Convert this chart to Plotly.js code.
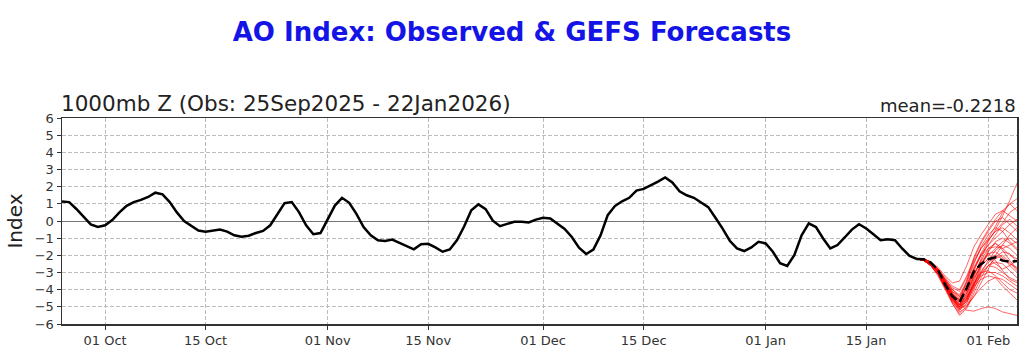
<!DOCTYPE html>
<html>
<head>
<meta charset="utf-8">
<script src="https://cdn.plot.ly/plotly-3.0.1.min.js"></script>
<style>html,body{margin:0;padding:0;background:#fff;}#chart{width:1024px;height:356px;}</style>
</head>
<body>
<div id="chart"></div>
<script>
// ---- Data ----
const obsStart = "2025-09-25";
const obsValues = [
  1.13, 1.10, 0.70, 0.23, -0.20, -0.35, -0.25, 0.05, 0.50, 0.88,
  1.10, 1.23, 1.40, 1.65, 1.55, 1.10, 0.50, 0.00, -0.30, -0.55,
  -0.62, -0.56, -0.50, -0.62, -0.83, -0.92, -0.86, -0.70, -0.58, -0.25,
  0.42, 1.04, 1.10, 0.52, -0.25, -0.77, -0.70, 0.08, 0.90, 1.35,
  1.06, 0.42, -0.35, -0.83, -1.12, -1.17, -1.08, -1.27, -1.46, -1.65,
  -1.35, -1.33, -1.54, -1.79, -1.66, -1.12, -0.32, 0.63, 0.97, 0.69,
  0.02, -0.30, -0.17, -0.04, -0.04, -0.08, 0.08, 0.19, 0.15, -0.13,
  -0.46, -0.93, -1.56, -1.92, -1.66, -0.84, 0.34, 0.87, 1.15, 1.35,
  1.77, 1.87, 2.06, 2.29, 2.54, 2.25, 1.73, 1.50, 1.35, 1.10,
  0.81, 0.19, -0.44, -1.15, -1.60, -1.75, -1.54, -1.21, -1.31, -1.79,
  -2.46, -2.62, -1.98, -0.83, -0.14, -0.35, -1.02, -1.60, -1.40, -0.96,
  -0.50, -0.19, -0.44, -0.77, -1.12, -1.06, -1.12, -1.60, -2.02, -2.21
];
const fcstStart = "2026-01-22";
const ensMean = [-2.21, -2.23, -2.42, -2.85, -3.71, -4.38, -4.73, -3.90, -2.94, -2.50, -2.23, -2.12, -2.31, -2.37, -2.33];
const members = [
  [-2.2,-2.3,-2.5,-3.0,-3.8,-4.5,-5.0,-4.3,-3.2,-2.2,-1.2,-0.5,0.3,1.2,2.2],
  [-2.2,-2.2,-2.4,-2.8,-3.5,-4.2,-4.6,-3.5,-2.1,-1.2,-0.5,0.1,0.6,1.0,1.3],
  [-2.2,-2.3,-2.6,-3.1,-3.9,-4.7,-5.3,-5.0,-4.4,-3.6,-2.8,-2.0,-1.4,-0.8,-0.4],
  [-2.2,-2.3,-2.5,-2.9,-3.6,-4.3,-4.8,-5.2,-5.25,-5.1,-5.0,-5.1,-5.3,-5.4,-5.5],
  [-2.2,-2.2,-2.4,-2.7,-3.2,-3.6,-3.5,-2.6,-1.5,-0.8,-0.2,0.4,0.6,0.3,0.0],
  [-2.2,-2.3,-2.5,-3.0,-3.7,-4.4,-4.9,-4.2,-3.3,-2.6,-2.2,-2.0,-2.2,-2.5,-2.7],
  [-2.2,-2.3,-2.6,-3.2,-4.0,-4.8,-5.5,-5.1,-4.2,-3.3,-2.6,-2.2,-2.0,-2.4,-2.9],
  [-2.2,-2.2,-2.4,-2.8,-3.4,-4.0,-4.4,-3.7,-2.8,-2.0,-1.4,-0.8,-0.2,0.1,-0.3],
  [-2.2,-2.3,-2.5,-2.9,-3.6,-4.4,-5.0,-4.7,-3.9,-3.1,-2.6,-2.7,-3.0,-3.3,-3.5],
  [-2.2,-2.3,-2.4,-2.8,-3.5,-4.1,-4.5,-3.9,-3.0,-2.4,-2.0,-1.6,-1.2,-1.0,-1.3],
  [-2.2,-2.2,-2.5,-3.0,-3.9,-4.6,-5.1,-4.5,-3.6,-3.0,-2.9,-3.2,-3.6,-4.0,-4.2],
  [-2.2,-2.3,-2.5,-2.9,-3.5,-4.2,-4.7,-4.0,-2.9,-1.9,-1.1,-0.6,-0.4,-0.7,-1.1],
  [-2.2,-2.3,-2.6,-3.1,-3.8,-4.6,-5.2,-4.8,-3.8,-2.7,-1.8,-1.2,-1.0,-1.3,-1.7],
  [-2.2,-2.2,-2.4,-2.8,-3.4,-3.9,-4.1,-3.3,-2.3,-1.6,-1.1,-0.6,-0.1,0.5,0.8],
  [-2.2,-2.3,-2.5,-2.9,-3.7,-4.5,-5.0,-4.6,-3.7,-3.0,-2.6,-2.4,-2.5,-2.9,-3.3],
  [-2.2,-2.3,-2.5,-3.0,-3.8,-4.5,-4.9,-4.2,-3.2,-2.3,-1.6,-1.3,-1.6,-2.0,-2.2],
  [-2.2,-2.2,-2.4,-2.8,-3.5,-4.3,-4.8,-4.4,-3.8,-3.4,-3.2,-3.3,-3.8,-4.2,-4.6],
  [-2.2,-2.3,-2.6,-3.1,-3.9,-4.7,-5.2,-4.6,-3.5,-2.5,-1.9,-1.8,-2.1,-2.6,-3.0],
  [-2.2,-2.3,-2.5,-2.9,-3.6,-4.3,-4.6,-3.8,-2.7,-1.9,-1.4,-1.0,-0.6,-0.2,0.1],
  [-2.2,-2.2,-2.4,-2.9,-3.6,-4.4,-4.9,-4.4,-3.4,-2.6,-2.2,-2.5,-2.8,-2.6,-2.3],
  [-2.2,-2.3,-2.5,-3.0,-3.7,-4.5,-5.1,-4.9,-4.4,-3.9,-3.5,-3.3,-3.4,-3.7,-4.0],
  [-2.2,-2.3,-2.5,-2.9,-3.5,-4.1,-4.4,-3.6,-2.5,-1.5,-0.8,-0.4,-0.6,-1.2,-1.6],
  [-2.2,-2.3,-2.6,-3.1,-3.9,-4.8,-5.4,-5.0,-4.0,-3.0,-2.3,-1.7,-1.4,-1.6,-2.0],
  [-2.2,-2.2,-2.4,-2.8,-3.4,-4.0,-4.3,-3.5,-2.4,-1.6,-1.0,-0.3,0.5,1.0,0.6],
  [-2.2,-2.3,-2.5,-2.9,-3.6,-4.4,-4.9,-4.5,-3.6,-2.9,-2.4,-2.1,-1.8,-1.9,-2.4],
  [-2.2,-2.3,-2.5,-3.0,-3.8,-4.6,-5.0,-4.5,-3.7,-3.2,-3.0,-3.0,-3.2,-3.5,-3.8],
  [-2.2,-2.2,-2.4,-2.8,-3.5,-4.2,-4.6,-3.9,-2.8,-2.0,-1.6,-1.5,-1.6,-1.4,-1.2],
  [-2.2,-2.3,-2.5,-2.9,-3.7,-4.5,-5.1,-4.7,-3.7,-2.6,-1.7,-1.3,-1.7,-2.3,-2.8],
  [-2.2,-2.3,-2.5,-3.0,-3.6,-4.3,-4.7,-4.1,-3.1,-2.3,-1.9,-2.3,-2.9,-3.4,-3.6],
  [-2.2,-2.2,-2.4,-2.8,-3.3,-3.8,-4.0,-3.2,-2.2,-1.3,-0.6,0.0,0.2,-0.2,-0.6]
];
const tickDates = ["2025-10-01","2025-10-15","2025-11-01","2025-11-15","2025-12-01","2025-12-15","2026-01-01","2026-01-15","2026-02-01"];
const tickLabels = ["01 Oct","15 Oct","01 Nov","15 Nov","01 Dec","15 Dec","01 Jan","15 Jan","01 Feb"];
const yTicks = [-6,-5,-4,-3,-2,-1,0,1,2,3,4,5,6];
const titleText = "AO Index: Observed & GEFS Forecasts";
const subTitle = "1000mb Z (Obs: 25Sep2025 - 22Jan2026)";
const meanText = "mean=-0.2218";

// ---- helpers ----
function dailyDates(start, n) {
  const out = [];
  const d0 = new Date(start + "T00:00:00Z");
  for (let i = 0; i < n; i++) {
    const d = new Date(d0.getTime() + i * 86400000);
    out.push(d.toISOString().slice(0, 10));
  }
  return out;
}
const obsDates = dailyDates(obsStart, obsValues.length);
const fcstDates = dailyDates(fcstStart, ensMean.length);

const traces = [];
members.forEach(m => {
  traces.push({x: fcstDates, y: m, type: "scatter", mode: "lines",
    line: {color: "rgba(255,0,0,0.6)", width: 1}, hoverinfo: "skip", showlegend: false});
});
traces.push({x: obsDates, y: obsValues, type: "scatter", mode: "lines",
  line: {color: "#000", width: 2.5}, showlegend: false});
traces.push({x: fcstDates, y: ensMean, type: "scatter", mode: "lines",
  line: {color: "#000", width: 2.5, dash: "9px,4px"}, showlegend: false});

const font = "DejaVu Sans, sans-serif";
const layout = {
  width: 1024, height: 356,
  margin: {l: 62, r: 7, t: 118, b: 32},
  paper_bgcolor: "#fff", plot_bgcolor: "#fff",
  font: {family: font, color: "#222"},
  title: {text: "<b>" + titleText + "</b>", font: {family: font, size: 26, color: "#1414e6"},
    x: 0.5, xanchor: "center", y: 0.91, yanchor: "middle", yref: "container"},
  xaxis: {
    type: "date", range: ["2025-09-25", "2026-02-05"],
    tickvals: tickDates, ticktext: tickLabels,
    tickfont: {size: 13, color: "#333"},
    ticks: "outside", ticklen: 4, tickcolor: "#333",
    showgrid: true, gridcolor: "#bdbdbd", griddash: "4px,2px", gridwidth: 1,
    showline: true, linecolor: "#333", linewidth: 1.5, mirror: true,
    zeroline: false, fixedrange: true
  },
  yaxis: {
    range: [-6, 6], tickvals: yTicks,
    tickfont: {size: 13, color: "#333"},
    ticks: "outside", ticklen: 4, tickcolor: "#333",
    showgrid: true, gridcolor: "#bdbdbd", griddash: "4px,2px", gridwidth: 1,
    showline: true, linecolor: "#333", linewidth: 1.5, mirror: true,
    zeroline: true, zerolinecolor: "#777", zerolinewidth: 1,
    title: {text: "Index", font: {size: 20, color: "#222"}, standoff: 6},
    fixedrange: true
  },
  annotations: [
    {text: subTitle, xref: "paper", yref: "paper", x: 0, y: 1, xanchor: "left", yanchor: "bottom",
     showarrow: false, font: {size: 21.5, color: "#222"}, xshift: -3, yshift: 0},
    {text: meanText, xref: "paper", yref: "paper", x: 1, y: 1, xanchor: "right", yanchor: "bottom",
     showarrow: false, font: {size: 18, color: "#222"}, xshift: 1, yshift: 0}
  ]
};
Plotly.newPlot("chart", traces, layout, {displayModeBar: false, staticPlot: true});
</script>
</body>
</html>
